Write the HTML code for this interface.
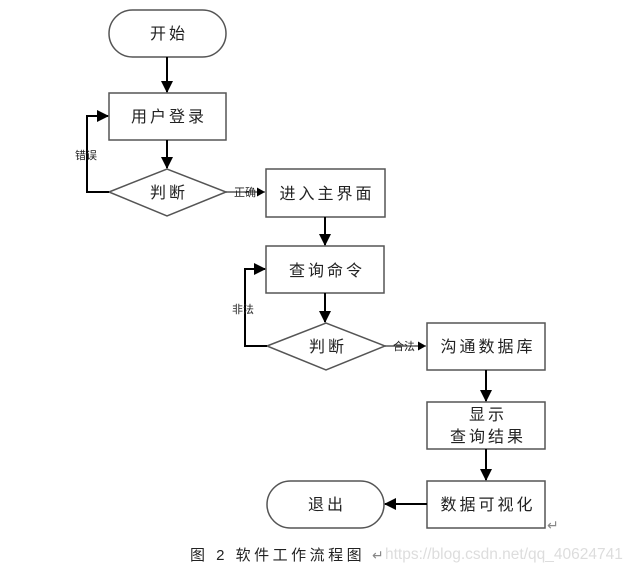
<!DOCTYPE html>
<html><head><meta charset="utf-8"><style>
html,body{margin:0;padding:0;background:#fff;}
svg text{font-family:"Liberation Sans","Noto Sans CJK SC",sans-serif;fill:#222;}
</style></head><body>
<svg width="632" height="570" viewBox="0 0 632 570" xmlns="http://www.w3.org/2000/svg">
<defs>
<marker id="a" markerWidth="12" markerHeight="12" refX="11" refY="6" orient="auto" markerUnits="userSpaceOnUse"><path d="M0,0 L12,6 L0,12 Z" fill="#000"/></marker>
<marker id="s" markerWidth="8" markerHeight="9" refX="8" refY="4.5" orient="auto" markerUnits="userSpaceOnUse"><path d="M0,0 L8,4.5 L0,9 Z" fill="#000"/></marker>
</defs>
<g fill="#fff" stroke="#555" stroke-width="1.5">
<rect x="109" y="10" width="117" height="47" rx="23.5"/>
<rect x="109" y="93" width="117" height="47"/>
<polygon points="109,192 167,169 226,192 167,216"/>
<rect x="266" y="169" width="119" height="48"/>
<rect x="266" y="246" width="118" height="47"/>
<polygon points="267,346 326,323 385,346 326,370"/>
<rect x="427" y="323" width="118" height="47"/>
<rect x="427" y="402" width="118" height="47"/>
<rect x="427" y="481" width="118" height="47"/>
<rect x="267" y="481" width="117" height="47" rx="23.5"/>
</g>
<g stroke="#000" stroke-width="2" fill="none">
<line x1="167" y1="57" x2="167" y2="92" marker-end="url(#a)"/>
<line x1="167" y1="140" x2="167" y2="168" marker-end="url(#a)"/>
<polyline points="109,192 87,192 87,116 108,116" marker-end="url(#a)"/>
<line x1="226" y1="192" x2="265" y2="192" stroke-width="1" marker-end="url(#s)"/>
<line x1="325" y1="217" x2="325" y2="245" marker-end="url(#a)"/>
<line x1="325" y1="293" x2="325" y2="322" marker-end="url(#a)"/>
<polyline points="267,346 245,346 245,269 265,269" marker-end="url(#a)"/>
<line x1="385" y1="346" x2="426" y2="346" stroke-width="1" marker-end="url(#s)"/>
<line x1="486" y1="370" x2="486" y2="401" marker-end="url(#a)"/>
<line x1="486" y1="449" x2="486" y2="480" marker-end="url(#a)"/>
<line x1="427" y1="504" x2="385" y2="504" marker-end="url(#a)"/>
</g>
<g font-size="16" text-anchor="middle" letter-spacing="3">
<text x="169" y="39">开始</text>
<text x="169" y="122">用户登录</text>
<text x="169" y="198">判断</text>
<text x="327" y="199">进入主界面</text>
<text x="327" y="276">查询命令</text>
<text x="328" y="352">判断</text>
<text x="488" y="352">沟通数据库</text>
<text x="488" y="420">显示</text>
<text x="488" y="442">查询结果</text>
<text x="488" y="510">数据可视化</text>
<text x="327" y="510">退出</text>
</g>
<g font-size="11" fill="#444">
<text x="75" y="159">错误</text>
<text x="234" y="196">正确</text>
<text x="232" y="313">非法</text>
<text x="393" y="350">合法</text>
</g>
<text x="547" y="530" font-size="14" fill="#888" style="fill:#888">↵</text>
<text x="190" y="560" font-size="15" letter-spacing="3.5">图 2 软件工作流程图</text>
<text x="372" y="560" font-size="14" fill="#888" style="fill:#888">↵</text>
<text x="385" y="559" font-size="15.5" style="fill:#ddd">https://blog.csdn.net/qq_40624741</text>
</svg>
</body></html>
